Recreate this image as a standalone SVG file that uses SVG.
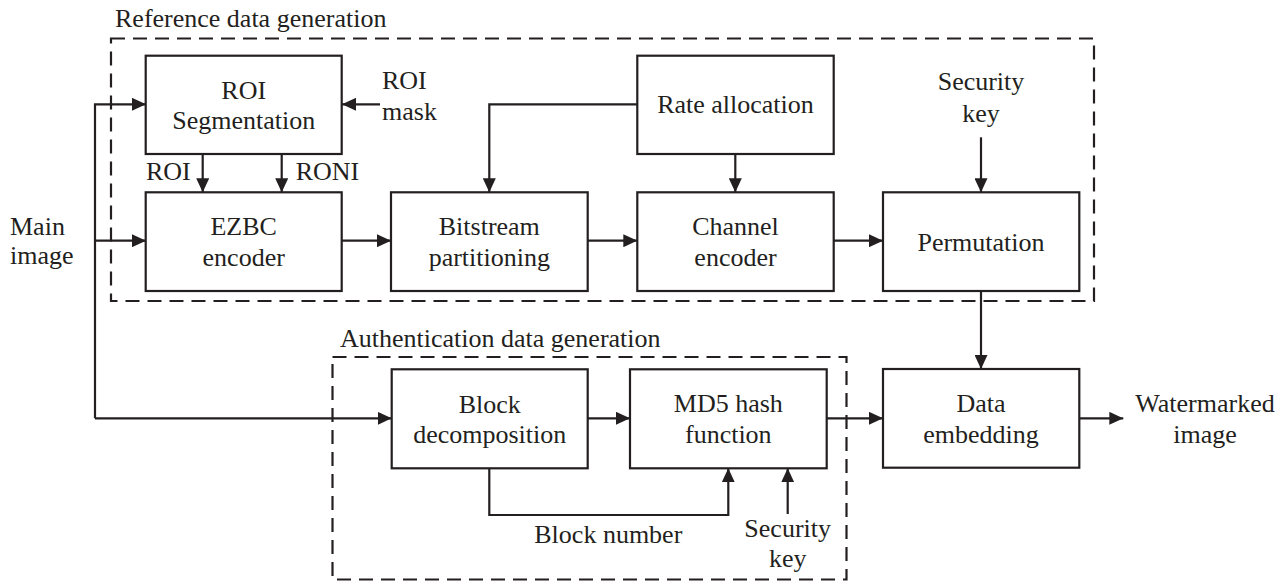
<svg xmlns="http://www.w3.org/2000/svg" width="1285" height="581" viewBox="0 0 1285 581">
<style>
.box{fill:#fff;stroke:#231f20;stroke-width:2.2}
.grp{fill:none;stroke:#231f20;stroke-width:2.2;stroke-dasharray:14 8}
.ln{fill:none;stroke:#231f20;stroke-width:2.2}
.ar{marker-end:url(#ah)}
text{font-family:'Liberation Serif','Tinos','Times New Roman','DejaVu Serif',serif;font-size:26px;fill:#231f20}
.c{text-anchor:middle}
</style>
<defs>
<marker id="ah" markerUnits="userSpaceOnUse" markerWidth="14" markerHeight="13" refX="14" refY="6.5" orient="auto">
<path d="M0,0 L14,6.5 L0,13 z" fill="#231f20"/>
</marker>
</defs>
<g id="group-reference">
<rect class="grp" x="111" y="38.5" width="983" height="262.5"/>
<text x="115" y="27">Reference data generation</text>
</g>
<g id="group-auth">
<rect class="grp" x="332.5" y="357" width="514" height="222.5"/>
<text x="340" y="347">Authentication data generation</text>
</g>
<g id="connectors">
<polyline class="ln ar" points="95,418.3 95,104.3 146,104.3"/>
<line class="ln ar" x1="95" y1="240.7" x2="146" y2="240.7"/>
<line class="ln ar" x1="95" y1="418.3" x2="391.7" y2="418.3"/>
<line class="ln ar" x1="380" y1="104.3" x2="342" y2="104.3"/>
<line class="ln ar" x1="202.7" y1="154" x2="202.7" y2="192.3"/>
<line class="ln ar" x1="281.7" y1="154" x2="281.7" y2="192.3"/>
<line class="ln ar" x1="342" y1="240.7" x2="391" y2="240.7"/>
<line class="ln ar" x1="588" y1="240.7" x2="637.3" y2="240.7"/>
<line class="ln ar" x1="834" y1="240.7" x2="883" y2="240.7"/>
<polyline class="ln ar" points="637.3,104.3 489.3,104.3 489.3,192.3"/>
<line class="ln ar" x1="735.3" y1="154" x2="735.3" y2="192.3"/>
<line class="ln ar" x1="981" y1="137.3" x2="981" y2="192.3"/>
<line class="ln ar" x1="981" y1="291" x2="981" y2="369"/>
<line class="ln ar" x1="588" y1="418.3" x2="630" y2="418.3"/>
<line class="ln ar" x1="827" y1="418.3" x2="883" y2="418.3"/>
<line class="ln ar" x1="1079.3" y1="418.3" x2="1123.3" y2="418.3"/>
<polyline class="ln ar" points="489.3,468.3 489.3,515 728.3,515 728.3,468.3"/>
<line class="ln ar" x1="787.7" y1="514" x2="787.7" y2="468.3"/>
</g>
<g id="node-roi-seg">
<rect class="box" x="145.7" y="55.7" width="196" height="98.3"/>
<text class="c" x="243.7" y="98.7">ROI</text>
<text class="c" x="243.7" y="129">Segmentation</text>
</g>
<g id="node-ezbc">
<rect class="box" x="145.7" y="192.3" width="196" height="98.7"/>
<text class="c" x="243.7" y="235">EZBC</text>
<text class="c" x="243.7" y="266">encoder</text>
</g>
<g id="node-bitstream">
<rect class="box" x="391" y="192.3" width="196.7" height="98.7"/>
<text class="c" x="489.3" y="235">Bitstream</text>
<text class="c" x="489.3" y="266">partitioning</text>
</g>
<g id="node-rate">
<rect class="box" x="637.3" y="55.7" width="196.4" height="98.3"/>
<text class="c" x="735.5" y="113.3">Rate allocation</text>
</g>
<g id="node-channel">
<rect class="box" x="637.3" y="192.3" width="196.4" height="98.7"/>
<text class="c" x="735.5" y="235">Channel</text>
<text class="c" x="735.5" y="266">encoder</text>
</g>
<g id="node-permutation">
<rect class="box" x="883" y="192.3" width="196.3" height="98.7"/>
<text class="c" x="981" y="250.5">Permutation</text>
</g>
<g id="node-block">
<rect class="box" x="391.7" y="369.3" width="196" height="99"/>
<text class="c" x="489.7" y="412.5">Block</text>
<text class="c" x="489.7" y="443">decomposition</text>
</g>
<g id="node-md5">
<rect class="box" x="630" y="369.3" width="196.7" height="99"/>
<text class="c" x="728.3" y="412">MD5 hash</text>
<text class="c" x="728.3" y="443">function</text>
</g>
<g id="node-embedding">
<rect class="box" x="883" y="369" width="196.3" height="98.7"/>
<text class="c" x="981" y="412">Data</text>
<text class="c" x="981" y="443">embedding</text>
</g>
<g id="labels">
<text x="382" y="89">ROI</text>
<text x="382" y="120">mask</text>
<text x="146" y="180">ROI</text>
<text x="295.7" y="180">RONI</text>
<text x="10" y="235">Main</text>
<text x="10" y="263.5">image</text>
<text class="c" x="981" y="90">Security</text>
<text class="c" x="981" y="121.5">key</text>
<text class="c" x="1205" y="411.7">Watermarked</text>
<text class="c" x="1205" y="443">image</text>
<text class="c" x="608.3" y="543.3">Block number</text>
<text class="c" x="787.7" y="536.7">Security</text>
<text class="c" x="787.7" y="567.3">key</text>
</g>
</svg>
